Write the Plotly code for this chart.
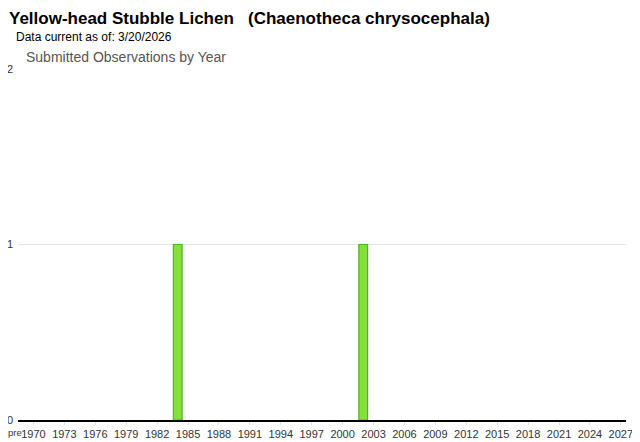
import plotly.graph_objects as go

categories = ["pre"] + [str(y) for y in range(1970, 2028)]
obs_years = ["1984", "2002"]
obs_counts = [1, 1]
tick_labels = [str(y) for y in range(1970, 2028, 3)]
y_ticks = [0, 1, 2]

fig = go.Figure()
fig.add_trace(go.Bar(
    x=obs_years, y=obs_counts,
    marker=dict(color="#86e03c", line=dict(color="#4fb51c", width=1.2)),
    width=0.85,
))

# page body has an 8px margin, so the figure is 632x434 drawn at (8, 8)
W, H = 632, 434
L, R, T, B = 10, 14, 61, 22
PW = W - L - R
PH = H - T - B


def py(fig_y):
    return 1 + (T - fig_y) / PH


fig.update_layout(
    width=W, height=H,
    margin=dict(l=L, r=R, t=T, b=B, autoexpand=False),
    paper_bgcolor="white", plot_bgcolor="white",
    showlegend=False,
    font=dict(family="Liberation Sans, Arial, sans-serif", color="#333333", size=11),
    xaxis=dict(
        type="category", categoryorder="array", categoryarray=categories,
        range=[-0.5, len(categories) - 0.5], automargin=False,
        tickmode="array", tickvals=tick_labels, ticktext=tick_labels,
        showgrid=False, showline=True, linecolor="#000000", linewidth=1.5,
        ticks="outside", ticklen=3, tickcolor="#dddddd",
        tickfont=dict(size=11, color="#333333"), fixedrange=True,
    ),
    yaxis=dict(
        range=[0, 2], tickvals=y_ticks, ticktext=[str(v) for v in y_ticks],
        showgrid=True, gridcolor="#e6e6e6", gridwidth=1, automargin=False,
        zeroline=False, showline=False,
        ticks="", tickfont=dict(size=11, color="#333333"), ticklabelstandoff=4,
    ),
    annotations=[
        dict(text="<b>Yellow-head Stubble Lichen   (Chaenotheca chrysocephala)</b>",
             xref="paper", yref="paper", x=-L / PW, y=py(0),
             xanchor="left", yanchor="top", showarrow=False, borderpad=0,
             font=dict(size=17, color="#000000", family="Liberation Sans, Arial, sans-serif"),
             xshift=0),
        dict(text="Data current as of: 3/20/2026",
             xref="paper", yref="paper", x=-L / PW, y=py(29),
             xanchor="left", yanchor="middle", showarrow=False, borderpad=0,
             font=dict(size=12, color="#000000"), xshift=7),
        dict(text="Submitted Observations by Year",
             xref="paper", yref="paper", x=-L / PW, y=py(49),
             xanchor="left", yanchor="middle", showarrow=False,
             font=dict(size=14, color="#555555"), xshift=16),
        dict(text="pre",
             xref="paper", yref="paper", x=-L / PW, y=py(424),
             xanchor="left", yanchor="middle", showarrow=False, borderpad=0,
             font=dict(size=9.5, color="#333333"), xshift=-1),
    ],
)

fig.write_html("out.html")
